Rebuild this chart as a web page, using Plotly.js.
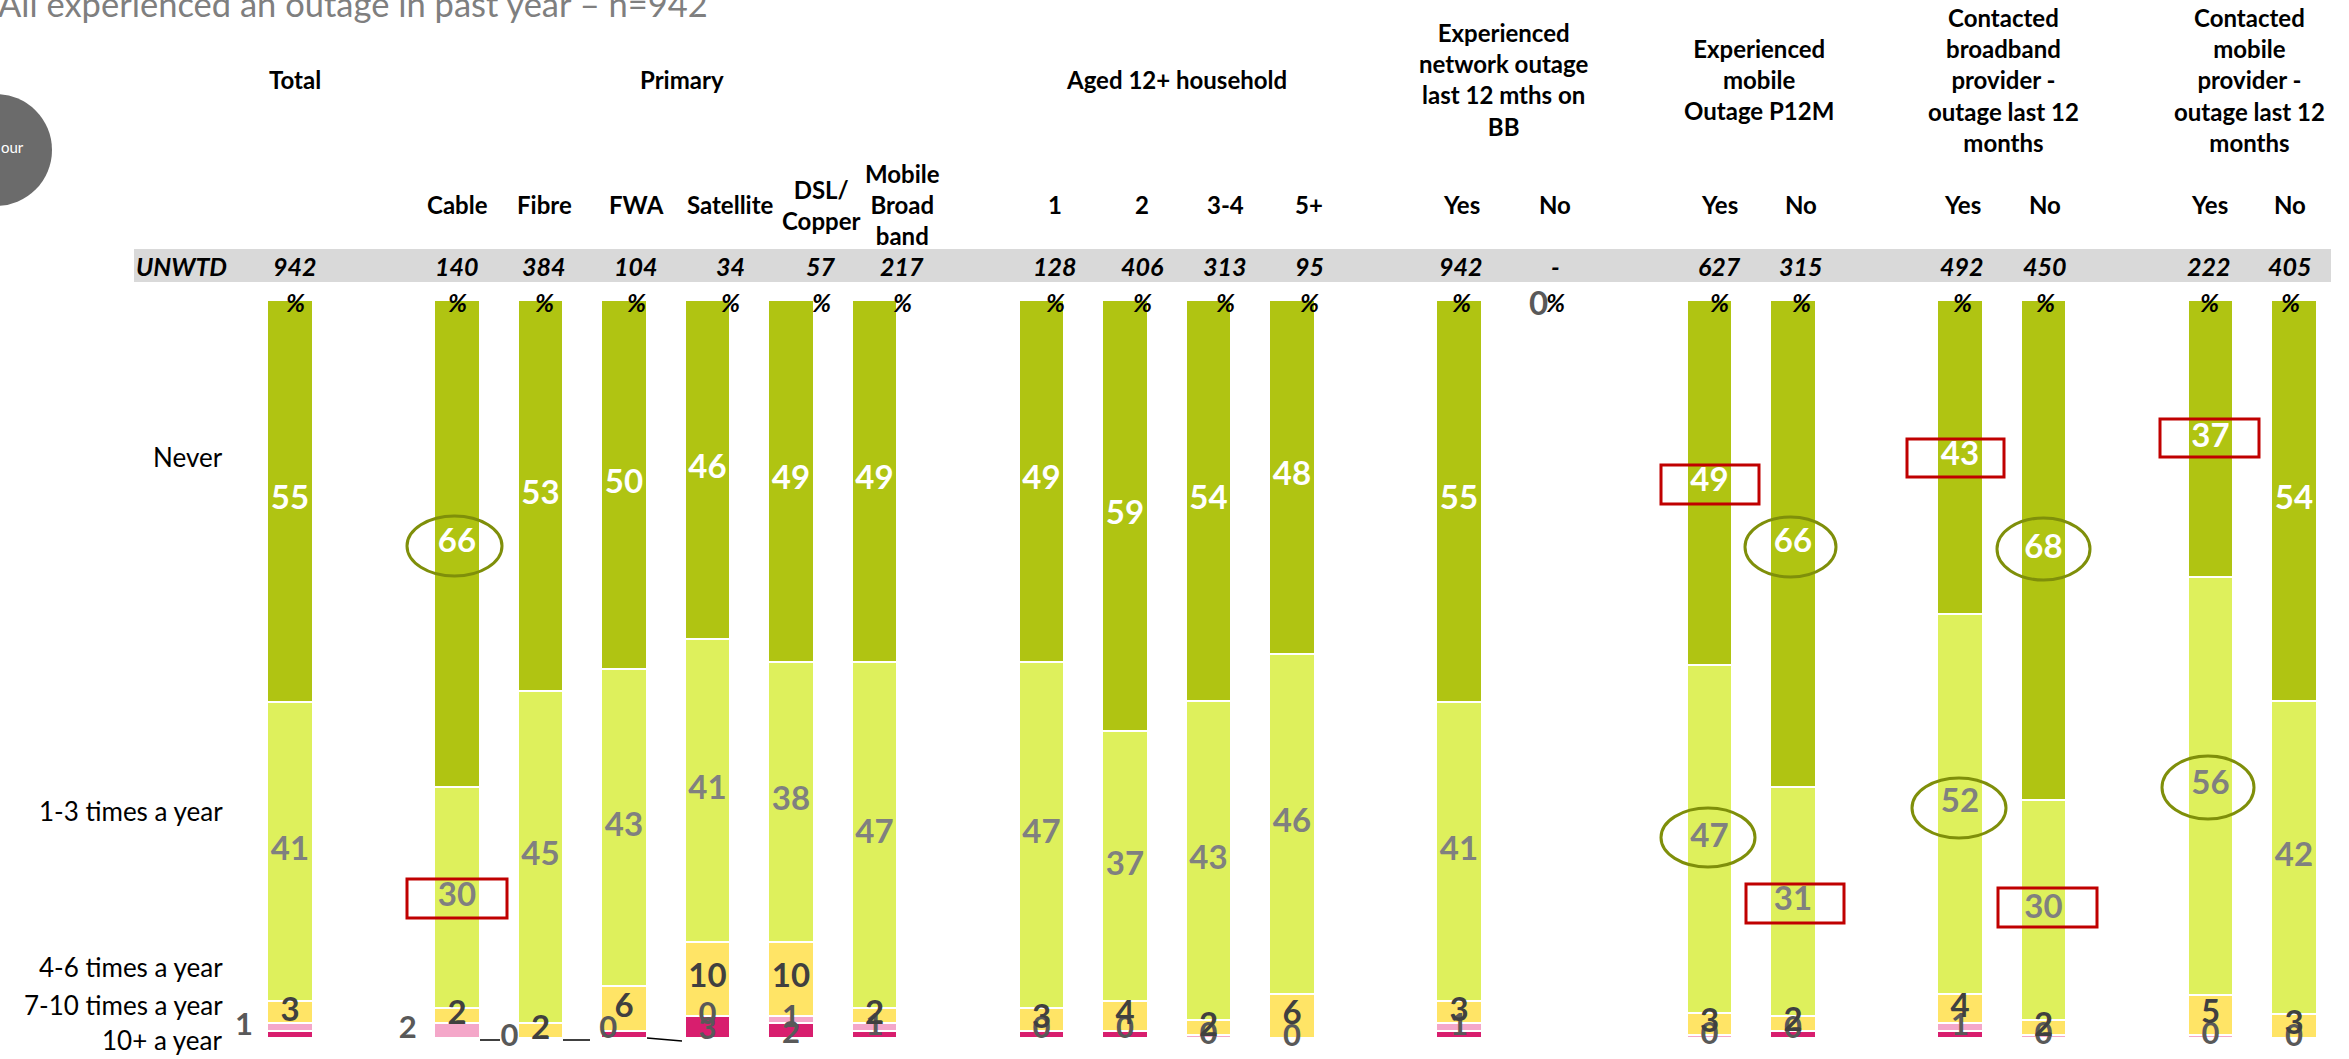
<!DOCTYPE html>
<html><head><meta charset="utf-8">
<script src="https://cdn.plot.ly/plotly-3.0.1.min.js"></script>
<style>html,body{margin:0;padding:0;background:#fff;overflow:hidden}#chart{width:2349px;height:1059px}</style>
</head><body><div id="chart"></div>
<script>
// ---------- DATA ----------
const chartTitle = "All experienced an outage in past year – n=942";
const groupHeaders = ["Total","Primary","Aged 12+ household",
  "Experienced<br>network outage<br>last 12 mths on<br>BB",
  "Experienced<br>mobile<br>Outage P12M",
  "Contacted<br>broadband<br>provider -<br>outage last 12<br>months",
  "Contacted<br>mobile<br>provider -<br>outage last 12<br>months"];
const categories = ["","Cable","Fibre","FWA","Satellite","DSL/<br>Copper","Mobile<br>Broad<br>band",
  "1","2","3-4","5+","Yes","No","Yes","No","Yes","No","Yes","No"];
const unweighted = ["942","140","384","104","34","57","217","128","406","313","95","942","-","627","315","492","450","222","405"];
const seriesNames = ["Never","1-3 times a year","4-6 times a year","7-10 times a year","10+ a year"];
const never       = [55,66,53,50,46,49,49,49,59,54.4,48,55,0,49.4,66,43,68,37.4,54.4];
const times1to3   = [41,30,45,43,41,38,47,47,37,43.2,46,41,0,47.2,31,52,30,56.4,42.4];
const times4to6   = [3,2,2,6,10,10,2,3,4,2,6,3,0,3,2,4,2,5.4,3.2];
const times7to10  = [1,2,0,0,0,1,1,0,0,0.4,0,1,0,0.4,0,1,0.4,0.4,0];
const times10plus = [1,0,0,1,3,2,1,1,1,0,0,1,0,0,1,1,0,0,0];

// ---------- LAYOUT HELPERS (positions / styles) ----------
const slots   = [0,2,3,4,5,6,7,9,10,11,12,14,15,17,18,20,21,23,24];
const labelPx = [295,457,544,636,730,821,902,1055,1142,1225,1309,1461,1555,1719,1801,1962,2045,2209,2290];
const groupPx = [295,682,1176,1504,1759,2004,2249];
const dx710 = [-0.55,-0.59,-0.37,-0.19,0,0,0,0,0,0,0,0,0,0,0,0,0,0,0];
const dx10  = [0,0.16,0.39,0.91,0,0,0,0,0,0,0,0,0,0,0,0,0,0,0];
const colors = ["#B0C412","#DEF05C","#FFE466","#F4A7C9","#D81E6E"];
const FONT = "Lato, 'Open Sans', sans-serif";
const W = 2349, H = 1059, TOP = 300, BOT = 1038, SLOT = 83.5, X0 = 290;
const px2x = p => (p - X0) / SLOT;
const pX = p => p / W;
const pY = p => (BOT - p) / (BOT - TOP);

const seriesTopDown = [never, times1to3, times4to6, times7to10, times10plus];
const bottomUp = seriesTopDown.slice().reverse();       // 10+, 7-10, 4-6, 1-3, Never
const colorsBU = colors.slice().reverse();
const namesBU = seriesNames.slice().reverse();

const traces = [];
bottomUp.forEach((vals, k) => {
  traces.push({type:'bar', name:namesBU[k], x:slots, y:vals, width:0.54,
    marker:{color:colorsBU[k], line:{color:'#ffffff', width:2}},
    hoverinfo:'skip', showlegend:false});
});
const labelFonts = [
  {size:31,color:'#595959'},{size:31,color:'#595959'},
  {size:33,color:'#404040'},{size:33,color:'#808080'},{size:33,color:'#ffffff'}];
bottomUp.forEach((vals, k) => {
  const xs=[], ys=[], ts=[];
  vals.forEach((v,i) => {
    if (unweighted[i] === '-') return;
    let total = 0; bottomUp.forEach(s => total += s[i]);
    let base = 0; for (let j=0;j<k;j++) base += bottomUp[j][i];
    let y = (base + v/2) * 100 / total, x = slots[i];
    if (k === 0) { y -= 0.6; x += dx10[i]; }
    if (k === 1) { x += dx710[i]; }
    xs.push(x); ys.push(y); ts.push('<b>' + Math.round(v) + '</b>');
  });
  traces.push({type:'scatter', mode:'text', x:xs, y:ys, text:ts, textposition:'middle center',
    textfont:Object.assign({family:FONT}, labelFonts[k]), cliponaxis:false, hoverinfo:'skip', showlegend:false});
});

// ---------- ANNOTATIONS ----------
const ann = [];
const A = (text, x, y, o) => ann.push(Object.assign({text, xref:'paper', yref:'paper', x:pX(x), y:pY(y),
  xanchor:'center', yanchor:'middle', showarrow:false, font:{family:FONT, size:24, color:'#000'}}, o||{}));
A(chartTitle, -4, 3, {xanchor:'left', font:{family:FONT, size:34.5, color:'#7F7F7F'}});
A('our', 26, 147, {xanchor:'right', font:{family:FONT, size:15, color:'#ffffff'}});
groupHeaders.forEach((g,i) => A('<b>'+g+'</b>', groupPx[i], 80));
categories.forEach((c,i) => { if (c) A('<b>'+c+'</b>', labelPx[i], 205); });
A('<b><i>UNWTD</i></b>', 134, 266, {xanchor:'left', font:{family:FONT, size:25, color:'#000'}});
unweighted.forEach((u,i) => A('<b><i>'+u+'</i></b>', labelPx[i], 266, {font:{family:FONT, size:25, color:'#000'}}));
unweighted.forEach((u,i) => A('<b><i>%</i></b>', labelPx[i], 302, {font:{family:FONT, size:25, color:'#000'}}));
A('<b>'+never[12]+'</b>', 1538, 302, {font:{family:FONT, size:33, color:'#595959'}});
const rowY = [457, 811, 967, 1005, 1040];
seriesNames.forEach((s,i) => A(s, 225, rowY[i], {xanchor:'right', font:{family:FONT, size:26, color:'#000'}}));

// ---------- SHAPES ----------
const shapes = [];
const S = (type, x0, y0, x1, y1, o) => shapes.push(Object.assign({type, xref:'paper', yref:'paper',
  x0:pX(x0), x1:pX(x1), y0:pY(y0), y1:pY(y1)}, o));
S('rect', 134, 249, 2331, 282, {fillcolor:'#D9D9D9', line:{width:0}, layer:'below'});
S('circle', -60, 94, 52, 206, {fillcolor:'#6B6B6B', line:{width:0}, layer:'below'});
const redBoxes = [[407,879,507,918],[1661,465,1759,504],[1746,884,1844,923],[1907,439,2004,477],[1998,888,2097,927],[2160,419,2259,457]];
redBoxes.forEach(b => S('rect', b[0], b[1], b[2], b[3], {line:{color:'#C00000', width:3}, fillcolor:'rgba(0,0,0,0)'}));
const ellipses = [[407,516,502,576],[1745,517,1836,577],[1997,518,2090,580],[1661,808,1755,867],[1912,778,2006,838],[2162,756,2254,819]];
ellipses.forEach(b => S('circle', b[0], b[1], b[2], b[3], {line:{color:'#7F8F0A', width:3}, fillcolor:'rgba(0,0,0,0)'}));
const leaders = [[480,1040,500,1040],[563,1040,590,1040],[647,1038,682,1041]];
leaders.forEach(b => S('line', b[0], b[1], b[2], b[3], {line:{color:'#000', width:1.5}}));

const layout = {
  width:W, height:H, autosize:false, barmode:'stack', barnorm:'percent', bargap:0,
  margin:{l:0, r:0, t:TOP, b:H-BOT, pad:0},
  paper_bgcolor:'#ffffff', plot_bgcolor:'rgba(0,0,0,0)',
  xaxis:{range:[px2x(0), px2x(W)], visible:false, fixedrange:true},
  yaxis:{range:[0,100], visible:false, fixedrange:true},
  showlegend:false, annotations:ann, shapes:shapes, font:{family:FONT}
};
Plotly.newPlot('chart', traces, layout, {staticPlot:true, displayModeBar:false});
</script></body></html>
